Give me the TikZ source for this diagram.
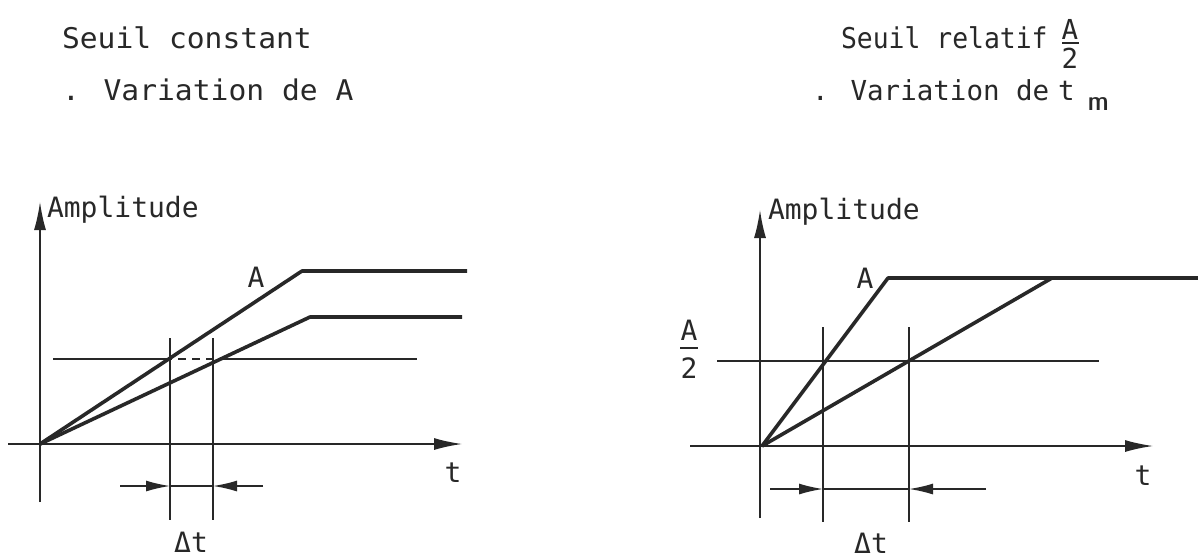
\documentclass[tikz,border=0pt]{standalone}
\usepackage{fontspec}
\usepackage{graphicx}
\usetikzlibrary{arrows.meta}
\newfontfamily\twfont{DejaVu Sans Mono}
\newcommand{\lbl}[1]{{\twfont\fontsize{28}{32}\selectfont #1}}
\newcommand{\ttl}[1]{\scalebox{1.04}[1]{\twfont\fontsize{28.5}{32}\selectfont #1}}
\newcommand{\ttr}[1]{{\twfont\fontsize{27.5}{32}\selectfont #1}}
\newcommand{\ttrs}[1]{\scalebox{0.96}[1.04]{\twfont\fontsize{27.5}{32}\selectfont #1}}
\definecolor{ink}{RGB}{40,40,40}
\begin{document}
\begin{tikzpicture}[x=1pt,y=-1pt,
  txt/.style={inner sep=0pt,outer sep=0pt,text=ink},
  axis/.style={draw=ink,line width=1.6pt,-{Latex[length=28pt,width=12pt]}},
  thin/.style={draw=ink,line width=1.5pt},
  thick/.style={draw=ink,line width=3.6pt,line join=round},
  dimarrow/.style={draw=ink,line width=1.5pt,-{Latex[length=24pt,width=11pt]}}]
\useasboundingbox (0,0) rectangle (1198,558);
\fill[white] (0,0) rectangle (1198,558);

% ---------- titles ----------
\node[txt,anchor=base west] (t1) at (62,48) {\ttl{Seuil constant}};
\node[txt,anchor=base west] (t2) at (62,100) {\ttl{. Variation de A}};
\node[txt,anchor=base west] (t3) at (841,48) {\ttrs{Seuil relatif}};
\node[txt,anchor=base] (fa) at (1070,39) {\ttr{A}};
\node[txt,anchor=base] (f2) at (1070,68) {\ttr{2}};
\draw[ink,line width=1.6pt] (1062,43) -- (1079,43);
\node[txt,anchor=base west] (t4) at (812,100) {\ttr{. Variation de}};
\node[txt,anchor=base west] (tt) at (1058,100) {\ttr{t}\hspace{13pt}\raisebox{-10pt}{\scalebox{1.6}[1.05]{\twfont\fontsize{22}{24}\selectfont m}}};

% ---------- left panel ----------
\coordinate (O1) at (40,444);
\coordinate (Y1b) at (40,502);
\coordinate (Y1t) at (40,202);
\coordinate (X1a) at (8,444);
\coordinate (X1b) at (462,444);
\path[axis] (Y1b) -- (Y1t);
\path[axis] (X1a) -- (X1b);
\coordinate (U1) at (302,271);
\coordinate (U1e) at (467,271);
\coordinate (L1) at (310,317);
\coordinate (L1e) at (462,317);
\path[thick] (O1) -- (U1) -- (U1e);
\path[thick] (O1) -- (L1) -- (L1e);
\coordinate (S1a) at (53,359);
\coordinate (S1b) at (172,359);
\coordinate (S1c) at (213,359);
\coordinate (S1d) at (221,359);
\coordinate (S1e) at (417,359);
\path[thin] (S1a) -- (S1b);
\path[thin,dash pattern=on 8pt off 6pt] ([xshift=6pt]S1b) -- (S1c);
\path[thin] (S1d) -- (S1e);
\coordinate (V1at) at (170,338);
\coordinate (V1ab) at (170,520);
\coordinate (V1bt) at (213,338);
\coordinate (V1bb) at (213,520);
\path[thin] (V1at) -- (V1ab);
\path[thin] (V1bt) -- (V1bb);
\coordinate (D1a) at (120,486);
\coordinate (D1b) at (170,486);
\coordinate (D1c) at (213,486);
\coordinate (D1d) at (263,486);
\path[dimarrow] (D1a) -- (D1b);
\path[dimarrow] (D1d) -- (D1c);
\path[thin] (D1b) -- (D1c);
\node[txt,anchor=base west] (amp1) at (47,217) {\lbl{Amplitude}};
\node[txt,anchor=base] (A1) at (256,287) {\lbl{A}};
\node[txt,anchor=base] (tx1) at (453,482) {\lbl{t}};
\node[txt,anchor=base] (dt1) at (191,552) {\lbl{Δt}};

% ---------- right panel ----------
\coordinate (O2) at (762,446);
\coordinate (Y2b) at (760,518);
\coordinate (Y2t) at (760,210);
\coordinate (X2a) at (690,446);
\coordinate (X2b) at (1153,446);
\path[axis] (Y2b) -- (Y2t);
\path[axis] (X2a) -- (X2b);
\coordinate (U2) at (888,278);
\coordinate (U2e) at (1198,278);
\coordinate (L2) at (1052,278);
\path[thick] (O2) -- (U2) -- (U2e);
\path[thick] (O2) -- (L2);
\coordinate (S2a) at (717,361);
\coordinate (S2b) at (1099,361);
\path[thin] (S2a) -- (S2b);
\coordinate (V2at) at (823,327);
\coordinate (V2ab) at (823,522);
\coordinate (V2bt) at (909,327);
\coordinate (V2bb) at (909,522);
\path[thin] (V2at) -- (V2ab);
\path[thin] (V2bt) -- (V2bb);
\coordinate (D2a) at (770,489);
\coordinate (D2b) at (823,489);
\coordinate (D2c) at (909,489);
\coordinate (D2d) at (986,489);
\path[dimarrow] (D2a) -- (D2b);
\path[dimarrow] (D2d) -- (D2c);
\path[thin] (D2b) -- (D2c);
\node[txt,anchor=base west] (amp2) at (768,219) {\lbl{Amplitude}};
\node[txt,anchor=base] (A2) at (865,288) {\lbl{A}};
\node[txt,anchor=base] (ha) at (689,340) {\lbl{A}};
\node[txt,anchor=base] (h2) at (689,378) {\lbl{2}};
\draw[ink,line width=1.6pt] (680,348) -- (698,348);
\node[txt,anchor=base] (tx2) at (1143,485) {\lbl{t}};
\node[txt,anchor=base] (dt2) at (871,553) {\lbl{Δt}};
\end{tikzpicture}
\end{document}
